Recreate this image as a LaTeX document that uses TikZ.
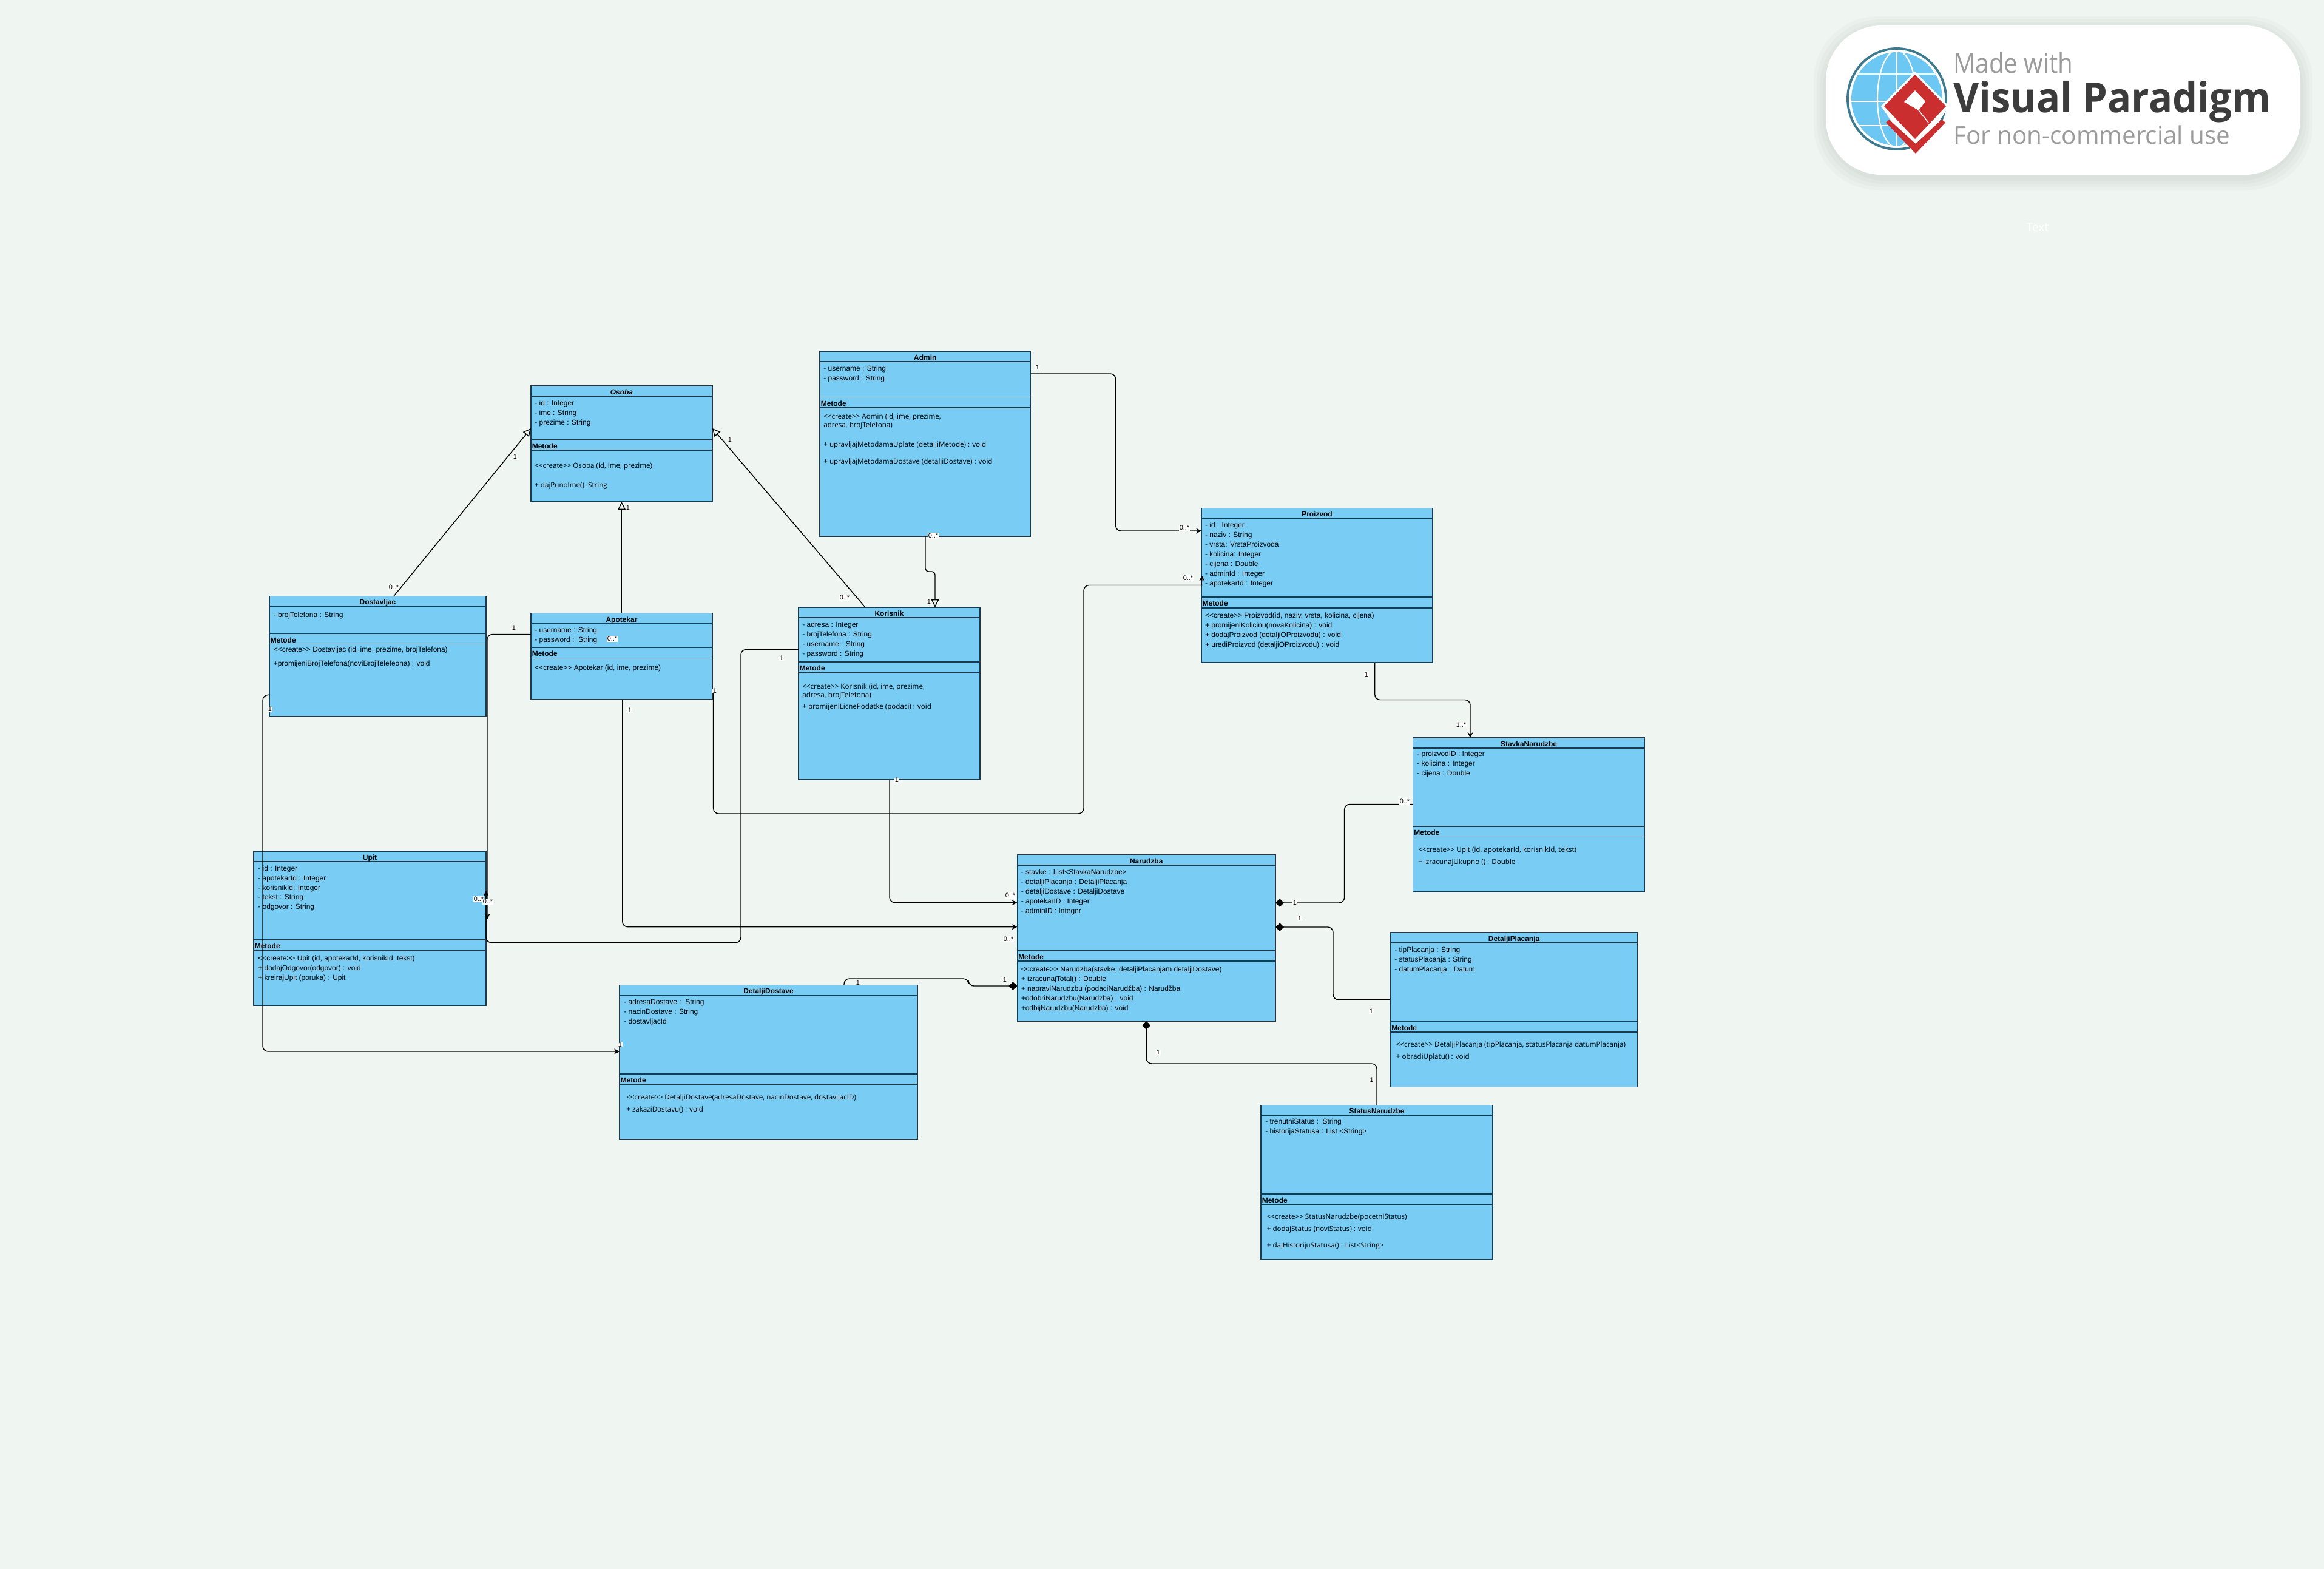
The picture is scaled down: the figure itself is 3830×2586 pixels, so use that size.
\documentclass[tikz,border=0pt]{standalone}
\usepackage{fontspec}
\setmainfont{Liberation Sans}
\newfontfamily\opensans{Open Sans}
\usetikzlibrary{calc,arrows.meta,shapes.geometric}
\definecolor{bgcol}{HTML}{EFF5F1}
\definecolor{boxcol}{HTML}{79CDF5}
\definecolor{edgecol}{HTML}{1C3A4C}
\definecolor{vpred}{HTML}{CB2E2E}
\definecolor{vpblue}{HTML}{6CC8F2}
\definecolor{vpring}{HTML}{3E7A8E}
\definecolor{vpgrey}{HTML}{9B9B9B}
\definecolor{vpdark}{HTML}{3C3C3C}
\tikzset{
	classbox/.style={draw=edgecol, fill=boxcol, line width=0.8pt, inner sep=0pt, outer sep=0pt},
	classline/.style={draw=edgecol, line width=0.8pt},
	titletext/.style={font=\fontsize{6.8}{9.07}\selectfont\bfseries, anchor=base, yshift=-3.3pt, inner sep=0pt},
	metodetext/.style={font=\fontsize{6.8}{9.07}\selectfont\bfseries, anchor=base west, yshift=-3.3pt, inner sep=0pt},
	lines/.style={font=\fontsize{6.8}{9.07}\selectfont, align=left, anchor=north west, inner sep=0pt, yshift=3.05pt, execute at begin node=\strut},
	oslines/.style={font=\fontsize{6.6}{7.94}\opensans\selectfont, align=left, anchor=north west, inner sep=0pt, yshift=2.3pt, execute at begin node=\strut},
	mult/.style={font=\fontsize{6.2}{7}\selectfont, fill=white, inner sep=0.4pt},
	link/.style={draw=black, line width=0.8pt, rounded corners=5pt},
	nav/.style={link, -{Stealth[length=5pt,width=5pt,inset=1.5pt]}},
	gen/.style={draw=black, line width=0.8pt, rounded corners=3pt, -{Triangle[open,fill=bgcol,length=7.4pt,width=7.2pt]}},
	comp/.style={link, {Diamond[length=8pt,width=7.6pt]}-},
}
\def\crt{<{}<create>{}>}
\def\umlclass(#1)(#2,#3,#4,#5)(#6,#7,#8)#9{
	\node[classbox, minimum width={(#4-#2)*0.02cm}, minimum height={(#5-#3)*0.02cm}] (#1) at ({(#2+#4)/2},{(#3+#5)/2}) {};
	\draw[classline] (#2,#6) -- (#4,#6);
	\draw[classline] (#2,#7) -- (#4,#7);
	\draw[classline] (#2,#8) -- (#4,#8);
	\node[titletext] (#1-title) at ({(#2+#4)/2},{(#3+#6)/2}) {#9};
	\node[metodetext] (#1-metode) at ({#2+1.5},{(#7+#8)/2}) {Metode};
}

\begin{document}
\begin{tikzpicture}[x=0.02cm, y=-0.02cm]
	\useasboundingbox (0,0) rectangle (3830,2586);
	\fill[bgcol] (0,0) rectangle (3830,2586);

	%%%%% LOGO %%%%%
	\foreach \g in {5,10,15,20}
		\fill[black, opacity=0.018, rounded corners=60pt] ({3009-\g},{42-\g+5}) rectangle ({3791+\g},{288+\g+5});
	\fill[white, rounded corners=52pt] (3009,42) rectangle (3791,288);
	\begin{scope}
		\clip (3126,163) circle[x radius=75, y radius=77];
		\fill[vpblue] (3126,163) circle[x radius=75, y radius=77];
		\draw[white, line width=1.4pt] (3040,122) -- (3215,122);
		\draw[white, line width=1.4pt] (3040,167) -- (3215,167);
		\draw[white, line width=1.4pt] (3040,207) -- (3215,207);
		\draw[white, line width=1.2pt] (3126,70) -- (3126,255);
		\draw[white, line width=1.2pt] (3126,163) circle[x radius=32, y radius=80];
	\end{scope}
	\draw[vpring, line width=2.2pt] (3126,163) circle[x radius=81, y radius=83];
	\fill[white] (3100,175) -- (3156,118) -- (3212,175) -- (3157,258) -- cycle;
	\fill[vpred] (3108,202) -- (3113,197) -- (3157,237) -- (3200,197) -- (3206,202) -- (3157,253) -- cycle;
	\fill[vpred] (3156,123) -- (3207,175) -- (3156,229) -- (3105,175) -- cycle;
	\fill[white] (3156,149) -- (3173,167) -- (3162,182) -- (3138,168) -- cycle;
	\draw[white, line width=0.8pt] (3162,182) -- (3178,202);
	\node[font=\fontsize{25.5}{28}\opensans\selectfont, text=vpgrey, anchor=base west, inner sep=0pt, xscale=0.9] (madewith) at (3219,120) {Made with};
	\node[font=\fontsize{39}{42}\opensans\selectfont\bfseries, text=vpdark, anchor=base west, inner sep=0pt, xscale=0.95] (vpname) at (3219,185) {Visual Paradigm};
	\node[font=\fontsize{23}{26}\opensans\selectfont, text=vpgrey, anchor=base west, inner sep=0pt] (noncomm) at (3219,237) {For non-commercial use};
	\node[font=\fontsize{11}{13}\opensans\selectfont, text=white, inner sep=0pt] (hiddentext) at (3358,375) {Text};

	%%%%% KLASE %%%%%
	\umlclass(osoba)(875,636,1174,827)(653,725,742){\itshape Osoba}
	\node[lines] (osoba-attr) at (881,665) {- id : Integer\\- ime : String\\- prezime : String};
	\node[oslines] (osoba-m1) at (881,765) {\crt{} Osoba (id, ime, prezime)};
	\node[oslines] (osoba-m2) at (881,797) {+ dajPunoIme() :String};

	\umlclass(dostavljac)(444,982.5,801,1180.5)(999.5,1044.7,1061.7){Dostavljac}
	\node[lines] (dostavljac-attr) at (450.5,1011) {- brojTelefona : String};
	\node[lines] (dostavljac-m1) at (450.5,1068) {\crt{} Dostavljac (id, ime, prezime, brojTelefona)};
	\node[lines] (dostavljac-m2) at (450.5,1091) {+promijeniBrojTelefona(noviBrojTelefeona) : void};

	\umlclass(apotekar)(875,1010.7,1174,1152.5)(1027.7,1067.5,1084.5){Apotekar}
	\node[lines] (apotekar-attr) at (881,1039) {- username : String\\- password :\ \ String};
	\node[lines] (apotekar-m1) at (881,1098) {\crt{} Apotekar (id, ime, prezime)};

	\umlclass(admin)(1351,579,1698.6,884)(596,654.5,672){Admin}
	\node[lines] (admin-attr) at (1357,608) {- username : String\\- password : String};
	\node[oslines] (admin-m1) at (1357,685) {\crt{} Admin (id, ime, prezime,\\adresa, brojTelefona)};
	\node[oslines] (admin-m2) at (1357,730) {+ upravljajMetodamaUplate (detaljiMetode) : void};
	\node[oslines] (admin-m3) at (1357,758) {+ upravljajMetodamaDostave (detaljiDostave) : void};

	\umlclass(korisnik)(1316,1001,1615,1285)(1018,1091,1109){Korisnik}
	\node[lines] (korisnik-attr) at (1322,1030) {- adresa : Integer\\- brojTelefona : String\\- username : String\\- password : String};
	\node[oslines] (korisnik-m1) at (1322,1130) {\crt{} Korisnik (id, ime, prezime,\\adresa, brojTelefona)};
	\node[oslines] (korisnik-m2) at (1322,1162) {+ promijeniLicnePodatke (podaci) : void};

	\umlclass(proizvod)(1980,837.6,2361,1092)(854.5,984,1002){Proizvod}
	\node[lines] (proizvod-attr) at (1985.7,866) {- id : Integer\\- naziv : String\\- vrsta: VrstaProizvoda\\- kolicina: Integer\\- cijena : Double\\- adminId : Integer\\- apotekarId : Integer};
	\node[lines] (proizvod-m) at (1985.7,1015) {\crt{} Proizvod(id, naziv, vrsta, kolicina, cijena)\\+ promijeniKolicinu(novaKolicina) : void\\+ dodajProizvod (detaljiOProizvodu) : void\\+ urediProizvod (detaljiOProizvodu) : void};

	\umlclass(upit)(418,1403,801,1657.4)(1420,1549,1567){Upit}
	\node[lines] (upit-attr) at (425,1431.5) {- id : Integer\\- apotekarId : Integer\\- korisnikId: Integer\\- tekst : String\\- odgovor : String};
	\node[lines] (upit-m) at (425,1580) {\crt{} Upit (id, apotekarId, korisnikId, tekst)\\+ dodajOdgovor(odgovor) : void\\+ kreirajUpit (poruka) : Upit};

	\umlclass(dostava)(1021,1623.5,1512,1878)(1640.4,1770,1787){DetaljiDostave}
	\node[lines] (dostava-attr) at (1028,1652) {- adresaDostave :\ \ String\\- nacinDostave : String\\- dostavljacId};
	\node[oslines] (dostava-m1) at (1032,1806) {\crt{} DetaljiDostave(adresaDostave, nacinDostave, dostavljacID)};
	\node[oslines] (dostava-m2) at (1032,1826) {+ zakaziDostavu() : void};

	\umlclass(narudzba)(1676.4,1409,2102,1683)(1426,1567,1584){Narudzba}
	\node[lines] (narudzba-attr) at (1682.5,1438) {- stavke : List<StavkaNarudzbe>\\- detaljiPlacanja : DetaljiPlacanja\\- detaljiDostave : DetaljiDostave\\- apotekarID : Integer\\- adminID : Integer};
	\node[lines] (narudzba-m) at (1682.5,1598) {\crt{} Narudzba(stavke, detaljiPlacanjam detaljiDostave)\\+ izracunajTotal() : Double\\+ napraviNarudzbu (podaciNarudžba) : Narudžba\\+odobriNarudzbu(Narudzba) : void\\+odbijNarudzbu(Narudzba) : void};

	\umlclass(stavka)(2328.6,1216,2710.6,1470)(1233,1362,1379.5){StavkaNarudzbe}
	\node[lines] (stavka-attr) at (2335,1243) {- proizvodID : Integer\\- kolicina : Integer\\- cijena : Double};
	\node[oslines] (stavka-m1) at (2337,1398) {\crt{} Upit (id, apotekarId, korisnikId, tekst)};
	\node[oslines] (stavka-m2) at (2337,1418) {+ izracunajUkupno () : Double};

	\umlclass(placanje)(2291.4,1537,2698.7,1791.5)(1554,1683.5,1701){DetaljiPlacanja}
	\node[lines] (placanje-attr) at (2298,1565.6) {- tipPlacanja : String\\- statusPlacanja : String\\- datumPlacanja : Datum};
	\node[oslines] (placanje-m1) at (2300.6,1719) {\crt{} DetaljiPlacanja (tipPlacanja, statusPlacanja datumPlacanja)};
	\node[oslines] (placanje-m2) at (2300.6,1739) {+ obradiUplatu() : void};

	\umlclass(status)(2078,1821.4,2460,2076)(1838.5,1968,1985.7){StatusNarudzbe}
	\node[lines] (status-attr) at (2085,1849) {- trenutniStatus :\ \ String\\- historijaStatusa : List <String>};
	\node[oslines] (status-m1) at (2087.5,2003) {\crt{} StatusNarudzbe(pocetniStatus)};
	\node[oslines] (status-m2) at (2087.5,2023) {+ dodajStatus (noviStatus) : void};
	\node[oslines] (status-m3) at (2087.5,2050) {+ dajHistorijuStatusa() : List<String>};

	%%%%% VEZE %%%%%
	\draw[gen] ($(dostavljac.north west)+(205,0)$) -- ($(osoba.north west)+(0,70)$);
	\draw[gen] (osoba.south |- apotekar.north) -- (osoba.south);
	\draw[gen] ($(korisnik.north west)+(110,0)$) -- ($(osoba.north east)+(0,70)$);
	\draw[gen] ($(admin.south west)+(174,0)$) -- ++(0,58) -- ++(16,0) -- ($(korisnik.north west)+(225,0)$);

	\draw[nav] ($(admin.north east)+(0,37)$) -| (1838.6,875) -- ($(proizvod.north west)+(0,37.4)$);
	\draw[nav] ($(apotekar.north east)+(1.6,125)$) |- (1786,1341) |- (1972,964.5) to[out=0,in=-90] ($(proizvod.north west)+(0.8,111)$);
	\draw[nav] ($(apotekar.south west)+(150.7,0)$) |- ($(narudzba.north west)+(0,118.7)$);
	\draw[nav] ($(korisnik.south west)+(150,0)$) |- ($(narudzba.north west)+(0,78.7)$);
	\draw[nav] ($(apotekar.north west)+(0,34.8)$) -| ($(upit.north east)+(2,112)$);
	\draw[nav] ($(korisnik.north west)+(0,69.4)$) -| (1221,1553.6) -| ($(upit.north east)+(0,65)$);
	\draw[nav] ($(dostavljac.north west)+(0,162.9)$) -| (433,1733) -- ($(dostava.north west)+(0,109.5)$);
	\draw[nav] ($(proizvod.south west)+(285.7,0)$) |- (2423,1153.5) -- ($(stavka.north west)+(94.4,0)$);

	\draw[comp] ($(narudzba.north west)+(0,216)$) -| (1596,1613) -| ($(dostava.north west)+(370,0)$);
	\draw[comp] ($(narudzba.north east)+(0,79)$) -| (2215.6,1325.5) -- ($(stavka.north west)+(0,109.5)$);
	\draw[comp] ($(narudzba.north east)+(0,119)$) -| (2197,1647.7) -- ($(placanje.north west)+(-1,110.7)$);
	\draw[comp] (narudzba.south) |- (2269,1753) -- ($(status.north west)+(191,0)$);

	%%%%% MULTIPLICITETI %%%%%
	\node[mult] (m-dostavljac-1) at (849,753) {1};
	\node[mult] (m-dostavljac-2) at (649,968) {0..*};
	\node[mult] (m-apotekar-1) at (1035,837) {1};
	\node[mult] (m-korisnik-1) at (1203,725) {1};
	\node[mult] (m-korisnik-2) at (1392,985) {0..*};
	\node[mult] (m-admin-1) at (1538,883) {0..*};
	\node[mult] (m-admin-2) at (1531,992) {1};
	\node[mult] (m-admin-3) at (1710,606) {1};
	\node[mult] (m-admin-4) at (1952,870) {0..*};
	\node[mult] (m-apotekar-2) at (1178,1139) {1};
	\node[mult] (m-apotekar-3) at (1958,953) {0..*};
	\node[mult] (m-apotekar-4) at (1038,1171) {1};
	\node[mult] (m-apotekar-5) at (1662,1548) {0..*};
	\node[mult] (m-korisnik-3) at (1478,1286) {1};
	\node[mult] (m-korisnik-4) at (1665,1476) {0..*};
	\node[mult] (m-apotekar-6) at (847,1035) {1};
	\node[mult] (m-upit-2) at (789,1482) {0..*};
	\node[mult] (m-upit-1) at (804,1486) {0..*};
	\node[mult] (m-korisnik-5) at (1288,1085) {1};
	\node[mult] (m-apotekar-7) at (1009,1053) {0..*};
	\node[mult] (m-dostavljac-3) at (445,1169) {1};
	\node[mult] (m-dostava-1) at (1022,1722) {1};
	\node[mult] (m-dostava-2) at (1414,1620) {1};
	\node[mult] (m-narudzba-1) at (1656,1615) {1};
	\node[mult] (m-narudzba-2) at (2134,1488) {1};
	\node[mult] (m-stavka-1) at (2315,1321) {0..*};
	\node[mult] (m-narudzba-3) at (2142,1514) {1};
	\node[mult] (m-placanje-1) at (2260,1667) {1};
	\node[mult] (m-narudzba-4) at (1909,1735) {1};
	\node[mult] (m-status-1) at (2260.6,1780) {1};
	\node[mult] (m-proizvod-1) at (2252,1112) {1};
	\node[mult] (m-stavka-2) at (2408,1195) {1..*};
\end{tikzpicture}
\end{document}
